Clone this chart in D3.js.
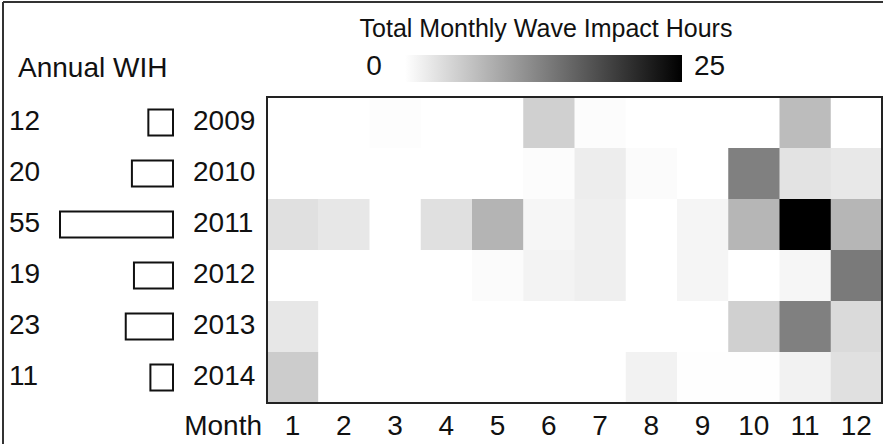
<!DOCTYPE html>
<html>
<head>
<meta charset="utf-8">
<script src="https://cdn.jsdelivr.net/npm/d3@7"></script>
<style>
  body { margin: 0; background: #fff; }
  svg { display: block; font-family: "Liberation Sans", Arial, sans-serif; }
</style>
</head>
<body>
<svg width="883" height="444"></svg>
<script>
// Years and their annual wave impact hours
const years = [2009, 2010, 2011, 2012, 2013, 2014];
const annualWIH = [12, 20, 55, 19, 23, 11];
const months = [1, 2, 3, 4, 5, 6, 7, 8, 9, 10, 11, 12];

// Monthly wave impact hours, one array per year
const wih2009 = [0, 0, 0.2, 0, 0, 4.6, 0.3, 0, 0, 0, 6.6, 0];
const wih2010 = [0, 0, 0, 0, 0, 0.3, 1.8, 0.4, 0, 12.5, 2.7, 2.3];
const wih2011 = [3.0, 2.4, 0, 3.0, 7.4, 0.9, 1.6, 0, 1.0, 7.2, 25, 7.2];
const wih2012 = [0, 0, 0, 0, 0.4, 1.2, 1.6, 0, 1.0, 0, 0.9, 13.0];
const wih2013 = [2.4, 0, 0, 0, 0, 0, 0, 0, 0, 4.6, 12.5, 3.6];
const wih2014 = [5.0, 0, 0, 0, 0, 0, 0, 1.3, 0.1, 0.1, 1.3, 3.0];
const monthly = [wih2009, wih2010, wih2011, wih2012, wih2013, wih2014];

const colorDomain = [0, 25];

const svg = d3.select("svg");

// outer frame (top and left edges visible)
svg.append("line").attr("x1", 3).attr("y1", 2).attr("x2", 883).attr("y2", 2)
    .attr("stroke", "#333").attr("stroke-width", 2);
svg.append("line").attr("x1", 3).attr("y1", 2).attr("x2", 3).attr("y2", 444)
    .attr("stroke", "#333").attr("stroke-width", 2);

// Scales
const x = d3.scaleBand().domain(months).range([267, 882]);
const y = d3.scaleBand().domain(years).range([97, 403]);
const color = d3.scaleLinear().domain(colorDomain).range(["#ffffff", "#000000"]);
const barW = d3.scaleLinear().domain([0, 55]).range([0, 113]);

// Heatmap cells
const cells = [];
years.forEach((yr, i) => {
    monthly[i].forEach((v, j) => cells.push({ year: yr, month: months[j], value: v }));
});

svg.append("g").selectAll("rect")
    .data(cells)
    .enter().append("rect")
    .attr("x", d => x(d.month))
    .attr("y", d => y(d.year))
    .attr("width", x.bandwidth() + 0.5)
    .attr("height", y.bandwidth() + 0.5)
    .attr("fill", d => color(d.value));

svg.append("rect")
    .attr("x", 267).attr("y", 97)
    .attr("width", 615).attr("height", 306)
    .attr("fill", "none")
    .attr("stroke", "#222")
    .attr("stroke-width", 2);

// Month labels
svg.append("g").selectAll("text")
    .data(months)
    .enter().append("text")
    .attr("x", d => x(d) + x.bandwidth() / 2)
    .attr("y", 435)
    .attr("text-anchor", "middle")
    .attr("font-size", 28)
    .attr("fill", "#111")
    .text(d => d);

svg.append("text")
    .attr("x", 262).attr("y", 435)
    .attr("text-anchor", "end")
    .attr("font-size", 28)
    .attr("fill", "#111")
    .text("Month");

// Year labels, annual bars and values
const rows = svg.append("g").selectAll("g")
    .data(years)
    .enter().append("g")
    .attr("transform", d => "translate(0," + (y(d) + y.bandwidth() / 2) + ")");

rows.append("text")
    .attr("x", 193).attr("y", 7.5)
    .attr("font-size", 28)
    .attr("fill", "#111")
    .text(d => d);

rows.append("rect")
    .attr("x", (d, i) => 173 - barW(annualWIH[i]))
    .attr("y", -13)
    .attr("width", (d, i) => barW(annualWIH[i]))
    .attr("height", 26)
    .attr("fill", "#fff")
    .attr("stroke", "#111")
    .attr("stroke-width", 2);

rows.append("text")
    .attr("x", 9).attr("y", 7.5)
    .attr("font-size", 28)
    .attr("fill", "#111")
    .text((d, i) => annualWIH[i]);

svg.append("text")
    .attr("x", 18).attr("y", 77)
    .attr("font-size", 28)
    .attr("fill", "#111")
    .text("Annual WIH");

// Colour legend
svg.append("text")
    .attr("x", 546).attr("y", 37)
    .attr("text-anchor", "middle")
    .attr("font-size", 25)
    .attr("fill", "#111")
    .text("Total Monthly Wave Impact Hours");

const grad = svg.append("defs").append("linearGradient")
    .attr("id", "wihGrad");
grad.append("stop").attr("offset", "0%").attr("stop-color", color(colorDomain[0]));
grad.append("stop").attr("offset", "100%").attr("stop-color", color(colorDomain[1]));

svg.append("rect")
    .attr("x", 405).attr("y", 55)
    .attr("width", 277).attr("height", 27)
    .attr("fill", "url(#wihGrad)");

svg.append("text")
    .attr("x", 374).attr("y", 75)
    .attr("text-anchor", "middle")
    .attr("font-size", 28)
    .attr("fill", "#111")
    .text(colorDomain[0]);

svg.append("text")
    .attr("x", 694).attr("y", 75)
    .attr("font-size", 28)
    .attr("fill", "#111")
    .text(colorDomain[1]);
</script>
</body>
</html>
